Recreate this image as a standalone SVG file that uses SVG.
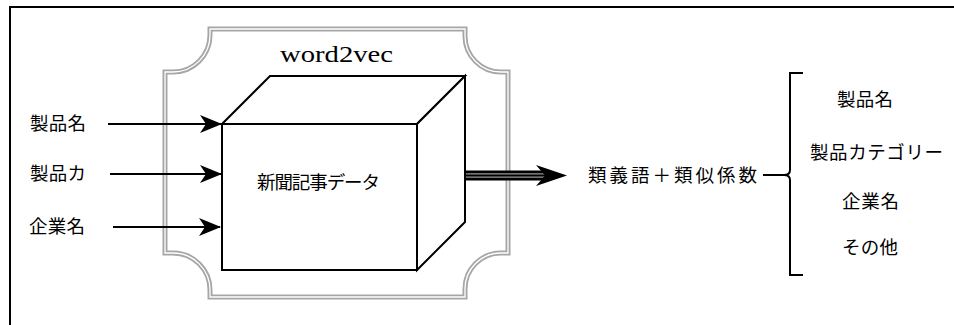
<svg xmlns="http://www.w3.org/2000/svg" width="954" height="325" viewBox="0 0 954 325">
<style>
.jp{font-family:"Noto Sans CJK JP","Noto Sans CJK SC",sans-serif;font-size:18.5px;fill:#000}
.ln{stroke:#000;stroke-width:2;fill:none}
.in{stroke:#000;stroke-width:2;fill:none;marker-end:url(#ah)}
.pl{fill:none;stroke:#a6a6a6;stroke-width:5}
.plw{fill:none;stroke:#fff;stroke-width:1.3}
</style>
<defs>
<marker id="ah" viewBox="0 0 22 18" refX="21" refY="9" markerWidth="22" markerHeight="18" markerUnits="userSpaceOnUse" orient="auto">
<path d="M0,0 L22,9 L0,18 L6,9 Z" fill="#000"/>
</marker>
<path id="plaque" d="M210,29 L465,29 L465,36 A36,36 0 0 0 501,72 L508,72 L508,253 L501,253 A36,36 0 0 0 465,289 L465,297 L210,297 L210,290 A37,37 0 0 0 173,253 L165,253 L165,72 L173,72 A37,37 0 0 0 210,35 Z"/>
</defs>
<rect width="954" height="325" fill="#fff"/>
<g id="outer-frame">
<path d="M10,325 L10,7 L954,7" class="ln"/>
</g>
<g id="word2vec-frame">
<use href="#plaque" class="pl"/>
<use href="#plaque" class="plw"/>
<text x="280" y="62" font-family="'Liberation Serif',serif" font-size="23" textLength="113" lengthAdjust="spacingAndGlyphs">word2vec</text>
</g>
<g id="connectors">
<line x1="108" y1="124" x2="221" y2="124" class="in"/>
<line x1="110" y1="174" x2="221" y2="174" class="in"/>
<line x1="113" y1="227" x2="220" y2="227" class="in"/>
<g id="output-arrow">
<rect x="446" y="170.5" width="99" height="10" fill="#000"/>
<line x1="446" y1="173.8" x2="545" y2="173.8" stroke="#999" stroke-width="1.2"/>
<line x1="446" y1="177.2" x2="545" y2="177.2" stroke="#999" stroke-width="1.2"/>
<polygon points="536,165 567,175.5 536,186 545,175.5" fill="#000"/>
</g>
</g>
<g id="cube">
<polygon points="222,124 270,76 465,76 417,124" fill="#fff" stroke="#000" stroke-width="2"/>
<polygon points="417,124 465,76 465,222 417,270" fill="#fff" stroke="#000" stroke-width="2"/>
<rect x="222" y="124" width="195" height="146" fill="#fff" stroke="#000" stroke-width="2"/>
<text class="jp" x="257" y="189" textLength="123">新聞記事データ</text>
</g>
<g id="input-1"><text class="jp" x="30" y="130" textLength="56">製品名</text></g>
<g id="input-2"><text class="jp" x="30" y="180" textLength="56">製品カ</text></g>
<g id="input-3"><text class="jp" x="29" y="233" textLength="56">企業名</text></g>
<g id="result"><text class="jp" x="588" y="182" textLength="169">類義語＋類似係数</text></g>
<g id="brace">
<path d="M803,73 L790,73 L790,170 Q790,175 784,175 L763,175 M784,175 Q790,175 790,180 L790,275 L803,275" class="ln" stroke-width="2.8"/>
</g>
<g id="out-1"><text class="jp" x="837" y="106" textLength="56">製品名</text></g>
<g id="out-2"><text class="jp" x="810" y="159" textLength="133">製品カテゴリー</text></g>
<g id="out-3"><text class="jp" x="842" y="208" textLength="57">企業名</text></g>
<g id="out-4"><text class="jp" x="842" y="254" textLength="56">その他</text></g>
</svg>
